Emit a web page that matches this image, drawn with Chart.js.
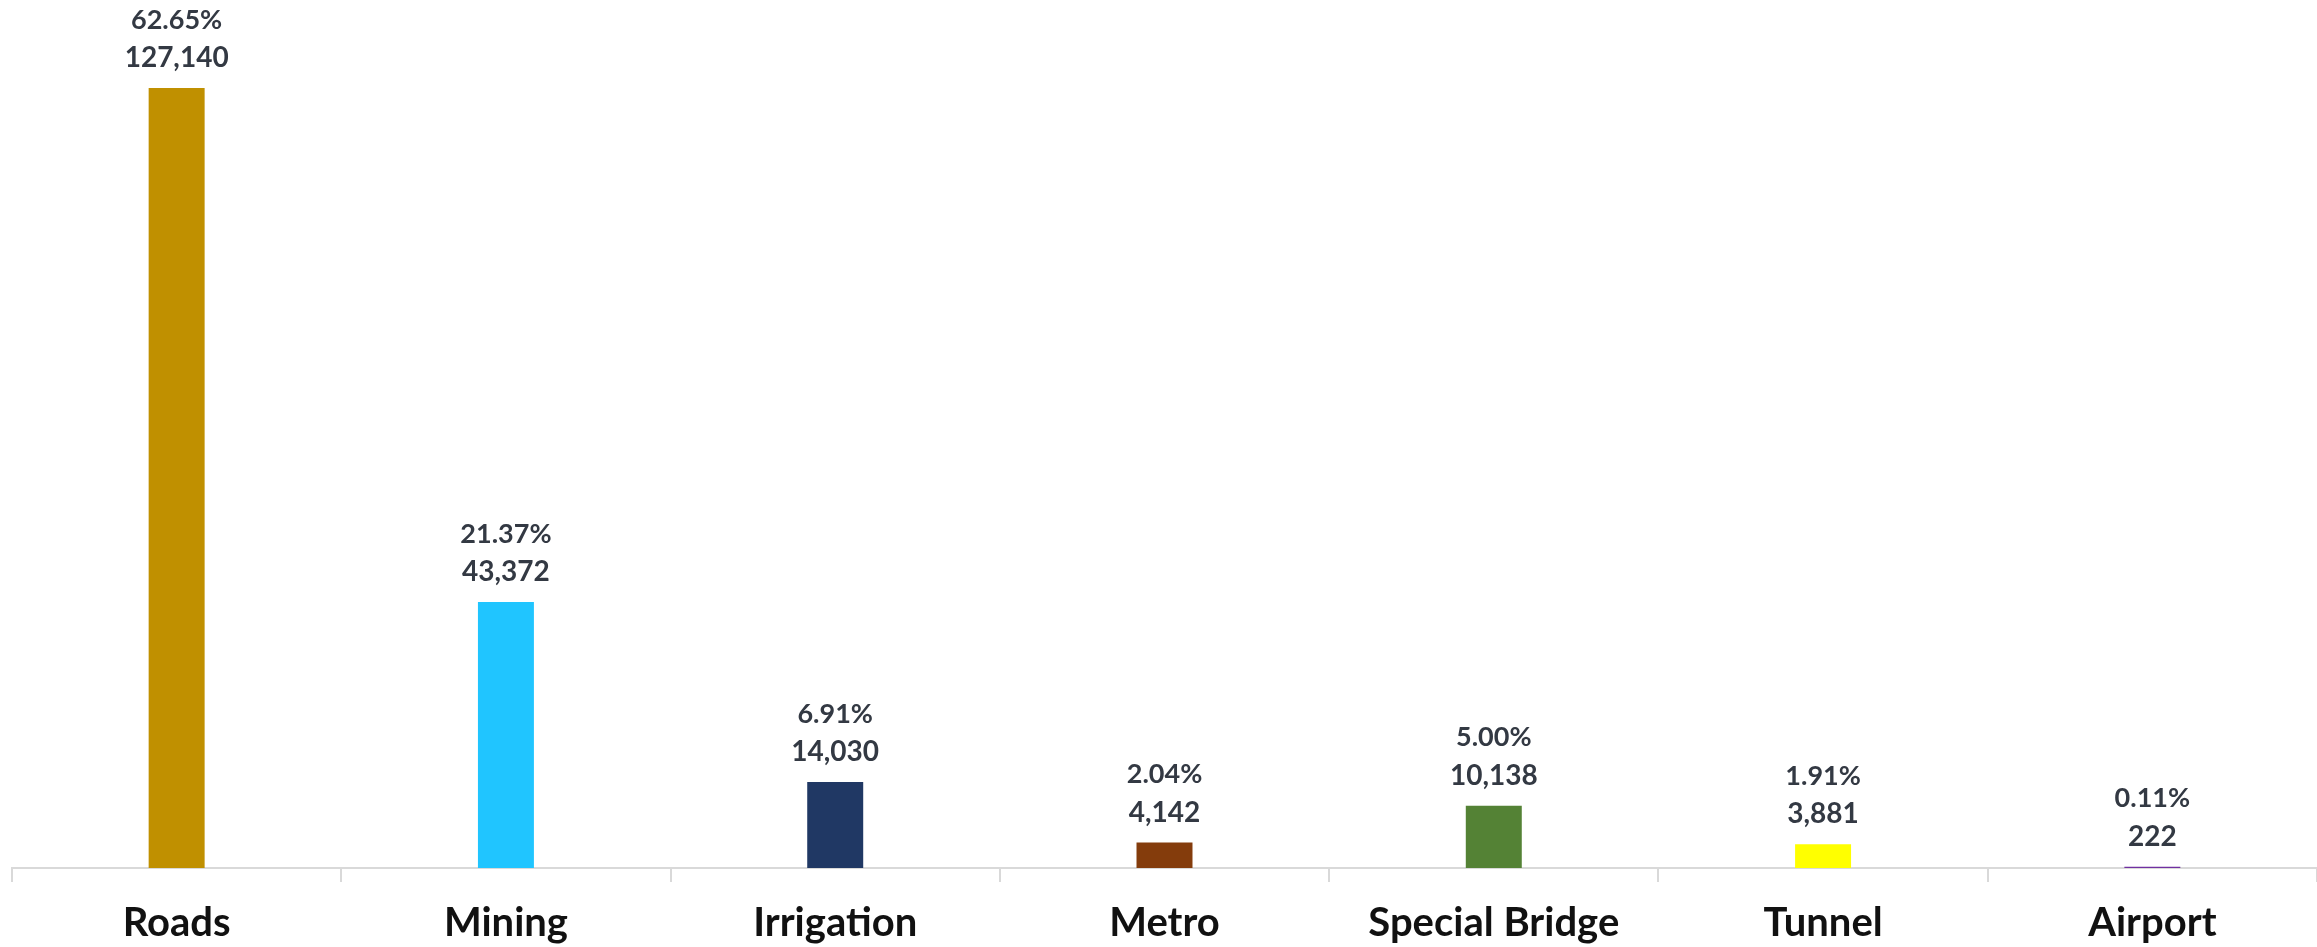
<!DOCTYPE html>
<html>
<head>
<meta charset="utf-8">
<script src="https://cdn.jsdelivr.net/npm/chart.js@4.4.1/dist/chart.umd.min.js"></script>
<style>
    html, body { margin: 0; padding: 0; background: #fff; }
    #wrap { width: 2317px; height: 947px; position: relative; }
</style>
</head>
<body>
<div id="wrap"><canvas id="chart_sectors"></canvas></div>
<script>
const CATEGORIES = ['Roads', 'Mining', 'Irrigation', 'Metro', 'Special Bridge', 'Tunnel', 'Airport'];
const VALUES = [127140, 43372, 14030, 4142, 10138, 3881, 222];
const SHARES = ['62.65%', '21.37%', '6.91%', '2.04%', '5.00%', '1.91%', '0.11%'];
const COLORS = ['#C09000', '#20C5FF', '#203864', '#843C0C', '#548235', '#FFFF00', '#7030A0'];

const FONT = 'Lato, "Open Sans", sans-serif';

// two-line label above each bar: share on top, count below
var barLabels = {
    id: 'barLabels',
    afterDatasetsDraw(chart) {
        var ctx = chart.ctx;
        var meta = chart.getDatasetMeta(0);
        ctx.save();
        ctx.fillStyle = '#333943';
        ctx.textAlign = 'center';
        ctx.textBaseline = 'middle';
        meta.data.forEach(function (bar, i) {
            ctx.font = 'bold 28px ' + FONT;
            ctx.fillText(VALUES[i].toLocaleString('en-US'), bar.x, bar.y - 30);
            ctx.font = 'bold 27px ' + FONT;
            ctx.fillText(SHARES[i], bar.x, bar.y - 68);
        });
        ctx.restore();
    }
};

var ctx = document.getElementById('chart_sectors');
var sectorChart = new Chart(ctx, {
    type: 'bar',
    data: {
        labels: CATEGORIES,
        datasets: [{
            data: VALUES,
            backgroundColor: COLORS,
            barPercentage: 0.17,
            categoryPercentage: 1.0
        }]
    },
    options: {
        responsive: true,
        maintainAspectRatio: false,
        animation: false,
        layout: { padding: { top: 9, left: 12, right: 0, bottom: 0 } },
        plugins: {
            legend: { display: false },
            tooltip: { enabled: false }
        },
        scales: {
            y: { display: false, min: 0, max: 140000 },
            x: {
                afterFit: function (scale) { scale.height = 79; },
                border: { color: '#d9d9d9', width: 2 },
                grid: { drawOnChartArea: false, color: '#d9d9d9', lineWidth: 2, tickLength: 14 },
                ticks: {
                    color: '#111111',
                    padding: 17,
                    maxRotation: 0,
                    font: { family: FONT, size: 40, weight: 'bold' }
                }
            }
        }
    },
    plugins: [barLabels]
});
</script>
</body>
</html>
